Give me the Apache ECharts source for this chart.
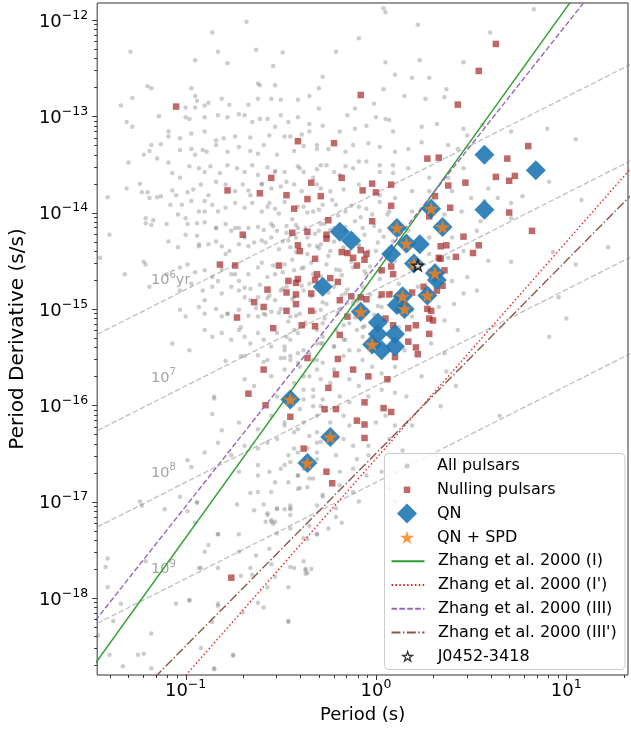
<!DOCTYPE html>
<html>
<head>
<meta charset="utf-8">
<script src="https://cdn.jsdelivr.net/npm/echarts@6/dist/echarts.min.js"></script>
<style>
  html, body { margin: 0; padding: 0; background: #fff; }
  #chart { width: 631px; height: 729px; }
</style>
</head>
<body>
<div id="chart"></div>
<script>
// all values are log10: [log P (s), log Pdot (s/s)]
const allPulsars = [
  [-0.84,-11.82],[-0.68,-12.02],[-0.86,-12.13],[-1.29,-12.33],[-0.83,-12.33],[-0.63,-12.31],[-0.49,-12.34],[-0.95,-12.42],[-0.78,-12.45],[-0.54,-12.48],
  [-1.20,-12.69],[-1.18,-12.71],[-0.62,-12.66],[-0.61,-12.68],[-0.53,-12.68],[-1.28,-12.81],[-0.97,-12.71],[-0.95,-12.79],[-0.94,-12.84],[-1.34,-12.89],
  [-1.00,-12.91],[-0.95,-12.91],[-0.90,-12.89],[-0.88,-12.86],[-0.81,-12.82],[-0.77,-12.88],[-0.67,-12.88],[-0.62,-12.82],[-0.55,-12.82],[-0.50,-12.83],
  [-0.41,-12.83],[-0.35,-12.79],[-1.31,-13.06],[-1.28,-13.11],[-1.14,-13.00],[-1.00,-13.01],[-0.98,-13.03],[-0.90,-13.01],[-0.83,-12.99],[-0.78,-13.01],
  [-0.72,-12.98],[-0.69,-12.99],[-0.65,-13.06],[-0.61,-13.03],[-0.57,-13.03],[-0.50,-12.99],[-0.46,-13.06],[-0.41,-13.01],[-0.35,-13.08],[-1.09,-13.16],
  [-1.09,-13.21],[-1.03,-13.23],[-0.97,-13.18],[-0.90,-13.16],[-0.84,-13.25],[-0.80,-13.23],[-0.74,-13.21],[-0.66,-13.22],[-0.56,-13.20],[-0.53,-13.11],
  [-0.48,-13.21],[-0.45,-13.21],[-0.39,-13.19],[-0.35,-13.16],[-0.28,-13.10],[-1.18,-13.30],[-1.13,-13.29],[-1.19,-13.36],[-1.03,-13.35],[-0.97,-13.34],
  [-0.95,-13.40],[-0.91,-13.35],[-0.89,-13.37],[-0.84,-13.30],[-0.78,-13.37],[-0.72,-13.32],[-0.66,-13.36],[-0.62,-13.39],[-0.59,-13.30],[-0.52,-13.40],
  [-0.43,-13.36],[-0.38,-13.31],[-0.31,-13.34],[-1.30,-13.48],[-1.22,-13.40],[-1.15,-13.44],[-1.09,-13.48],[-1.07,-13.59],[-1.03,-13.64],[-0.98,-13.52],
  [-0.93,-13.54],[-0.90,-13.58],[-0.87,-13.52],[-0.82,-13.59],[-0.78,-13.51],[-0.73,-13.54],[-0.69,-13.58],[-0.65,-13.51],[-0.62,-13.61],[-0.57,-13.53],
  [-0.53,-13.57],[-0.48,-13.58],[-0.41,-13.52],[-0.38,-13.58],[-0.31,-13.55],[-1.31,-13.75],[-1.24,-13.70],[-1.20,-13.79],[-1.13,-13.83],[-1.07,-13.77],
  [-1.05,-13.82],[-0.99,-13.79],[-0.96,-13.76],[-0.92,-13.71],[-0.88,-13.82],[-0.84,-13.68],[-0.79,-13.71],[-0.74,-13.78],[-0.70,-13.71],[-0.67,-13.77],
  [-0.60,-13.70],[-0.55,-13.75],[-0.50,-13.73],[-0.43,-13.71],[-0.39,-13.78],[-0.29,-13.75],[-1.41,-13.84],[-1.40,-14.23],[-1.23,-13.79],[-1.19,-13.85],
  [-1.15,-13.84],[-1.08,-13.92],[-1.02,-13.92],[-0.97,-13.88],[-0.93,-13.99],[-0.90,-13.88],[-0.86,-13.92],[-0.83,-13.99],[-0.79,-13.95],[-0.74,-13.90],
  [-0.69,-13.95],[-0.65,-13.90],[-0.60,-13.99],[-0.57,-13.94],[-0.53,-13.96],[-0.48,-13.89],[-0.38,-13.94],[-0.33,-13.99],[-1.21,-14.06],[-1.17,-14.08],
  [-1.21,-14.11],[-1.18,-14.13],[-1.10,-14.12],[-1.04,-14.02],[-1.00,-14.06],[-0.99,-14.12],[-0.94,-14.11],[-0.90,-14.10],[-0.84,-14.16],[-0.79,-14.12],
  [-0.76,-14.19],[-0.72,-14.16],[-0.67,-14.16],[-0.62,-14.15],[-0.59,-14.18],[-0.55,-14.12],[-0.52,-14.19],[-0.47,-14.14],[-0.41,-14.16],[-0.36,-14.26],
  [-0.30,-14.19],[-1.45,-14.47],[-1.22,-14.51],[-1.21,-14.54],[-1.09,-14.30],[-1.04,-14.36],[-1.00,-14.23],[-0.94,-14.24],[-0.93,-14.35],[-0.88,-14.33],
  [-0.84,-14.30],[-0.81,-14.35],[-0.77,-14.40],[-0.72,-14.33],[-0.67,-14.35],[-0.64,-14.31],[-0.60,-14.29],[-0.55,-14.26],[-0.49,-14.30],[-0.45,-14.36],
  [-0.42,-14.26],[-0.36,-14.43],[-0.31,-14.35],[-1.32,-14.64],[-1.10,-14.64],[-1.03,-14.57],[-0.99,-14.54],[-0.95,-14.62],[-0.90,-14.60],[-0.86,-14.67],
  [-0.81,-14.59],[-0.76,-14.64],[-0.72,-14.71],[-0.67,-14.64],[-0.62,-14.57],[-0.57,-14.67],[-0.53,-14.64],[-0.48,-14.54],[-0.43,-14.60],[-0.38,-14.57],
  [-0.33,-14.64],[-1.19,-14.77],[-1.03,-15.01],[-1.03,-14.81],[-0.97,-14.74],[-0.91,-14.81],[-0.86,-14.77],[-0.81,-14.84],[-0.76,-14.77],[-0.72,-14.81],
  [-0.69,-14.88],[-0.66,-14.79],[-0.62,-14.88],[-0.57,-14.89],[-0.53,-14.91],[-0.50,-14.81],[-0.47,-14.77],[-0.43,-14.88],[-0.38,-14.81],[-0.35,-14.74],
  [-0.29,-14.77],[-1.00,-15.08],[-0.93,-14.98],[-0.90,-15.05],[-0.84,-15.00],[-0.81,-15.08],[-0.78,-15.05],[-0.72,-15.01],[-0.67,-15.07],[-0.62,-15.08],
  [-0.59,-15.05],[-0.55,-15.03],[-0.50,-15.00],[-0.45,-15.08],[-0.40,-15.05],[-0.29,-15.01],[-1.07,-15.36],[-0.98,-15.43],[-0.90,-15.22],[-0.86,-15.29],
  [-0.81,-15.25],[-0.76,-15.32],[-0.72,-15.22],[-0.69,-15.29],[-0.66,-15.36],[-0.62,-15.25],[-0.59,-15.32],[-0.55,-15.39],[-0.52,-15.25],[-0.48,-15.39],
  [-0.45,-15.32],[-0.41,-15.25],[-0.38,-15.43],[-0.31,-15.22],[-0.28,-15.36],[-0.69,-15.49],[-0.62,-15.48],[-0.57,-15.53],[-0.48,-15.51],[-0.45,-15.49],
  [-0.41,-15.46],[-0.31,-15.53],
  [0.04,-11.88],[0.05,-11.92],[0.83,-11.89],[0.22,-12.05],[0.60,-12.13],[-0.09,-12.19],[-0.21,-12.33],[0.46,-12.44],[0.05,-12.44],[0.23,-12.42],
  [-0.30,-12.71],[0.04,-12.72],[0.15,-12.79],[0.26,-12.82],[0.36,-12.80],[0.37,-12.72],[0.10,-12.57],[0.19,-12.60],[0.28,-12.60],[-0.28,-12.59],
  [-0.11,-12.92],[-0.01,-12.87],[0.00,-13.01],[0.07,-13.04],[-0.15,-12.99],[-0.30,-12.92],[-0.19,-13.16],[-0.11,-13.13],[-0.05,-13.10],[0.05,-13.03],
  [0.09,-13.16],[0.24,-13.11],[0.32,-13.08],[0.46,-13.13],[0.48,-13.20],[0.56,-13.09],[0.71,-13.16],[0.90,-13.13],[1.05,-13.24],[-0.31,-13.30],
  [-0.25,-13.34],[-0.16,-13.37],[-0.12,-13.30],[-0.04,-13.28],[0.02,-13.32],[0.10,-13.37],[0.17,-13.34],[0.24,-13.27],[0.38,-13.30],[0.43,-13.34],
  [-0.29,-13.51],[-0.22,-13.58],[-0.16,-13.52],[-0.09,-13.47],[0.02,-13.51],[0.09,-13.59],[0.17,-13.54],[0.28,-13.64],[0.38,-13.64],[0.46,-13.54],
  [0.59,-13.75],[0.64,-13.85],[0.91,-13.68],[0.71,-13.90],[-0.31,-13.71],[-0.24,-13.78],[-0.17,-13.76],[-0.09,-13.71],[0.02,-13.82],[0.10,-13.85],
  [0.19,-13.78],[0.28,-13.78],[0.40,-13.78],[0.50,-13.85],[0.57,-13.88],[0.77,-13.83],[-0.28,-13.92],[-0.21,-13.92],[-0.16,-13.99],[-0.09,-13.94],
  [-0.02,-14.02],[0.07,-13.99],[0.19,-13.99],[0.36,-14.02],[0.45,-13.99],[0.55,-14.09],[0.71,-14.06],[-0.29,-14.12],[-0.22,-14.16],[-0.16,-14.19],
  [-0.07,-14.16],[0.02,-14.19],[0.17,-14.19],[0.28,-14.26],[0.40,-14.26],[0.53,-14.19],[-0.29,-14.33],[-0.24,-14.40],[-0.17,-14.36],[-0.09,-14.33],
  [0.00,-14.40],[0.09,-14.30],[0.28,-14.43],[0.38,-14.47],[0.46,-14.40],[0.59,-14.50],[0.71,-14.51],[0.93,-14.41],[1.05,-14.54],[-0.26,-14.54],
  [-0.19,-14.60],[-0.12,-14.57],[-0.05,-14.64],[0.02,-14.60],[0.10,-14.50],[0.28,-14.60],[0.40,-14.71],[0.48,-14.67],[-0.31,-14.74],[-0.22,-14.77],
  [-0.16,-14.84],[-0.07,-14.77],[0.02,-14.88],[0.12,-14.74],[0.22,-14.77],[0.46,-14.84],[0.53,-14.81],[-0.26,-14.95],[-0.19,-15.01],[-0.12,-14.95],
  [-0.05,-15.01],[0.03,-14.98],[0.19,-15.01],[0.33,-14.98],[0.41,-14.95],[-0.28,-15.15],[-0.21,-15.22],[-0.14,-15.15],[-0.07,-15.19],[0.12,-15.19],
  [0.19,-15.08],[0.36,-15.12],[0.43,-15.22],[-0.29,-15.36],[-0.22,-15.39],[-0.16,-15.32],[-0.09,-15.43],[-0.02,-15.36],[0.15,-15.43],[0.29,-15.36],
  [0.36,-15.46],[0.91,-15.29],[1.08,-13.87],[1.00,-15.10],
  [-0.79,-15.54],[-0.71,-15.49],[-0.59,-15.55],[-0.50,-15.51],[-0.41,-15.56],[-0.33,-15.53],[-0.85,-15.91],[-0.85,-15.93],[-0.69,-15.73],[-0.64,-15.80],
  [-0.55,-15.70],[-0.48,-15.63],[-0.43,-15.77],[-0.38,-15.70],[-0.31,-15.63],[-0.52,-15.91],[-0.45,-15.97],[-0.38,-15.94],[-0.33,-15.84],[-0.29,-16.01],
  [-0.81,-16.26],[-0.72,-16.18],[-0.62,-16.25],[-0.55,-16.11],[-0.48,-16.18],[-0.43,-16.28],[-0.38,-16.18],[-0.31,-16.28],[-0.86,-16.09],[-0.99,-16.57],
  [-0.97,-16.64],[-0.90,-16.49],[-0.83,-16.39],[-0.76,-16.52],[-0.69,-16.42],[-0.62,-16.45],[-0.57,-16.39],[-0.52,-16.35],[-0.46,-16.52],[-0.41,-16.49],
  [-0.36,-16.45],[-0.31,-16.39],[-0.62,-16.62],[-0.56,-16.69],[-0.50,-16.66],[-0.45,-16.59],[-0.38,-16.66],[-0.31,-16.56],[-0.72,-16.69],[-0.62,-16.73],
  [-0.53,-16.80],[-0.46,-16.80],[-0.41,-16.73],[-0.36,-16.85],[-0.33,-16.76],[-1.03,-16.95],[-0.94,-17.01],[-0.66,-16.91],[-0.62,-16.90],[-0.55,-16.90],
  [-0.52,-17.07],[-0.45,-17.07],[-0.40,-16.86],[-0.57,-17.14],[-0.55,-17.21],[-0.53,-17.21],[-0.99,-17.10],[-0.83,-17.34],[-0.72,-17.34],[-0.52,-17.33],
  [-0.45,-17.28],[-0.38,-17.38],[-0.31,-17.34],[-0.88,-17.45],[-0.90,-17.52],[-1.24,-17.00],[-1.23,-17.04],[-1.11,-17.08],[-1.41,-17.59],[-1.42,-17.68],
  [-1.21,-17.62],[-0.93,-17.69],[-0.72,-17.52],[-0.83,-17.69],[-0.55,-17.65],[-0.43,-17.69],[-0.38,-17.62],[-0.71,-17.77],[-0.65,-17.76],[-0.62,-18.05],
  [-0.70,-18.15],[-0.57,-17.89],[-0.46,-17.89],[-0.36,-17.74],[-0.37,-17.70],[-1.41,-17.89],[-1.05,-18.06],[-0.98,-18.03],[-1.34,-18.06],[-1.38,-18.24],
  [-0.83,-18.06],[-0.46,-18.24],[-1.18,-18.37],[-1.25,-18.59],[-1.22,-18.58],[-1.40,-18.59],[-1.33,-18.71],[-1.18,-18.73],[-0.85,-18.73],[-0.75,-18.59],
  [-1.46,-18.39],
  [-0.47,-15.29],[-0.43,-15.22],[-0.48,-15.43],[-0.45,-15.53],[-0.40,-15.60],[-0.35,-15.46],[-0.31,-15.36],[-0.28,-15.29],[-0.22,-15.39],[-0.17,-15.32],
  [-0.14,-15.43],[-0.10,-15.22],[-0.07,-15.29],[-0.28,-15.56],[-0.22,-15.63],[-0.17,-15.49],[-0.07,-15.53],[-0.02,-15.60],[0.03,-15.67],[0.10,-15.60],
  [-0.35,-15.70],[-0.29,-15.73],[-0.24,-15.77],[-0.14,-15.73],[-0.09,-15.80],[0.03,-15.84],[0.10,-15.87],[-0.38,-15.84],[-0.33,-15.91],[-0.28,-15.94],
  [-0.19,-15.91],[-0.14,-15.97],[-0.04,-15.91],[-0.33,-16.01],[-0.40,-16.04],[-0.31,-16.11],[-0.24,-16.18],[-0.17,-16.11],[-0.14,-16.21],[0.00,-16.18],
  [0.05,-16.11],[0.10,-16.21],[-0.48,-16.21],[-0.41,-16.25],[-0.35,-16.32],[-0.29,-16.38],[-0.17,-16.35],[-0.12,-16.42],[-0.04,-16.42],[0.07,-16.35],
  [-0.43,-16.45],[-0.31,-16.49],[-0.21,-16.52],[-0.10,-16.56],[-0.04,-16.52],[-0.48,-16.62],[-0.41,-16.73],[-0.35,-16.76],[-0.19,-16.69],[-0.12,-16.66],
  [-0.05,-16.73],[-0.41,-16.87],[-0.28,-16.93],[-0.19,-16.83],[-0.12,-16.90],[0.03,-16.69],[0.07,-16.87],[-0.31,-17.04],[-0.21,-17.07],[-0.09,-17.00],
  [0.10,-17.00],
  [-0.73,-17.03],[-0.64,-17.09],[-0.59,-17.03],[-0.57,-17.12],[-0.55,-17.19],[-0.54,-17.23],[-0.58,-17.21],[-0.52,-17.08],[-0.48,-17.08],[-0.45,-17.04],
  [-0.45,-17.08],[-0.45,-17.14],[-0.28,-16.95],[-0.21,-17.16],[-0.18,-17.22],[-0.35,-17.25],[-0.31,-17.34],[-0.25,-17.28],[-0.36,-17.39],[-0.56,-17.49],
  [-0.63,-17.56],[-0.83,-17.34],[-0.94,-17.01],[-0.98,-18.02],[-0.92,-17.69],[-0.66,-17.69],[-0.53,-17.78],[-0.45,-17.68],[-0.37,-17.71],[-0.34,-17.70],
  [-0.37,-17.75],[-0.83,-18.08],[-0.59,-18.10],[-0.46,-18.25],[-0.86,-18.25],[-0.92,-18.52],[-0.75,-18.60],[-0.85,-18.74],[-0.95,-17.22],
  [-0.56,-13.90],[-0.51,-14.01],[-0.44,-14.07],[-0.41,-13.94],[-0.36,-14.00],[-0.30,-13.97],[-0.23,-13.87],[-0.20,-14.03],[-0.13,-13.93],[-0.08,-14.05],
  [-0.05,-13.96],[0.02,-13.89],[0.06,-14.02],[-0.54,-14.14],[-0.47,-14.21],[-0.42,-14.13],[-0.37,-14.16],[-0.32,-14.22],[-0.27,-14.12],[-0.24,-14.18],
  [-0.16,-14.15],[-0.11,-14.09],[-0.06,-14.23],[-0.01,-14.14],[0.04,-14.25],[-0.58,-14.31],[-0.51,-14.38],[-0.46,-14.29],[-0.42,-14.41],[-0.35,-14.34],
  [-0.30,-14.37],[-0.25,-14.45],[-0.22,-14.30],[-0.15,-14.42],[-0.09,-14.35],[-0.04,-14.40],[0.01,-14.31],[0.06,-14.44],[-0.60,-14.52],[-0.54,-14.55],
  [-0.49,-14.62],[-0.44,-14.49],[-0.39,-14.58],[-0.34,-14.52],[-0.29,-14.66],[-0.21,-14.59],[-0.18,-14.65],[-0.13,-14.51],[-0.06,-14.61],[-0.03,-14.56],
  [0.02,-14.69],[-0.61,-14.75],[-0.56,-14.86],[-0.49,-14.79],[-0.44,-14.90],[-0.39,-14.76],[-0.34,-14.87],[-0.28,-14.93],[-0.25,-14.83],[-0.18,-14.86],
  [-0.15,-14.80],[-0.10,-14.92],[-0.03,-14.85],[0.01,-14.97],[0.08,-14.83],[-0.63,-14.99],[-0.58,-15.06],[-0.51,-15.04],[-0.46,-15.13],[-0.42,-15.07],
  [-0.37,-15.14],[-0.32,-15.03],[-0.27,-15.10],[-0.20,-15.04],[-0.17,-15.17],[-0.11,-15.09],[-0.06,-15.18],[-0.01,-15.06],[0.04,-15.12],[-0.74,-14.16],
  [-0.69,-14.26],[-0.79,-14.43],[-0.74,-14.64],[-0.69,-14.78],[-0.66,-14.91],[-0.78,-15.05],[-0.71,-15.19],[-0.66,-13.82],[-0.60,-13.71],[-0.53,-13.58],
  [-0.47,-13.68],[-0.40,-13.54],[-0.33,-13.64],[-0.26,-13.51],[-0.19,-13.61],[-0.12,-13.54],[-0.05,-13.47],[0.02,-13.58],[0.09,-13.51],[-0.90,-13.99],
  [-0.84,-14.16],[-0.93,-14.33],[-0.83,-14.71],[-0.90,-14.91],
  [0.16,-15.91],[0.24,-15.70],[0.19,-16.21],[0.37,-15.65],[0.34,-16.01],[0.42,-15.80],[0.14,-16.47],[0.96,-14.88],[1.22,-14.36],[0.65,-16.11]
];

const nullingPulsars = [
  [-1.05,-12.90],[-0.41,-13.26],[-0.55,-13.64],[-0.78,-13.77],[-0.61,-13.80],[-0.47,-13.82],[-0.34,-13.69],[-0.29,-13.83],[-0.36,-13.86],[-0.43,-13.96],
  [-0.70,-14.23],[-0.44,-14.21],[-0.36,-14.20],[-0.41,-14.34],[-0.40,-14.40],[-0.82,-14.54],[-0.74,-14.55],[-0.51,-14.55],[-0.32,-14.48],[-0.41,-14.69],
  [-0.46,-14.71],[-0.42,-14.73],[-0.57,-14.80],[-0.47,-14.83],[-0.42,-14.85],[-0.32,-14.70],[-0.64,-14.93],[-0.59,-14.98],[-0.47,-15.02],[-0.42,-14.95],
  [-0.34,-15.02],[-0.73,-15.09],[-0.54,-15.20],[-0.39,-15.17],[-0.32,-15.18],[-0.36,-15.51],
  [0.63,-12.25],[0.54,-12.53],[0.43,-12.88],[-0.08,-12.78],[-0.22,-13.28],[0.27,-13.44],[0.33,-13.43],[0.69,-13.44],[0.80,-13.31],[0.63,-13.63],
  [0.70,-13.67],[0.73,-13.62],[0.47,-13.69],[0.38,-13.72],[0.31,-13.83],[-0.18,-13.64],[-0.02,-13.70],[-0.07,-13.77],[0.00,-13.79],[0.08,-13.71],
  [0.08,-13.93],[0.39,-13.95],[0.70,-14.00],[0.82,-14.19],[0.28,-14.04],[-0.25,-14.08],[-0.02,-14.09],[0.46,-14.25],[0.54,-14.34],[0.34,-14.35],
  [0.37,-14.34],[0.51,-14.42],[0.42,-14.46],[0.33,-14.47],[-0.26,-14.23],[-0.18,-14.41],[-0.15,-14.42],[-0.08,-14.39],[-0.05,-14.43],[-0.12,-14.47],
  [-0.06,-14.49],[-0.10,-14.55],[0.08,-14.56],[0.03,-14.60],[0.09,-14.64],[0.36,-14.60],[0.34,-14.48],[0.19,-14.83],[0.25,-14.77],[0.32,-14.81],
  [0.35,-14.76],[-0.05,-14.90],[-0.13,-14.87],[-0.20,-14.72],[0.07,-14.85],[0.27,-15.00],[0.29,-15.02],[0.28,-15.10],[0.30,-15.12],[0.05,-15.10],
  [0.17,-15.20],[0.21,-15.17],[0.28,-15.26],[0.17,-15.34],[0.21,-15.40],[0.22,-15.47],[0.10,-15.50],[-0.20,-15.52],[-0.19,-15.27],[-0.15,-15.08],
  [-0.31,-14.64],[-0.26,-14.27],[-0.24,-14.68],[-0.34,-14.84],[-0.19,-14.91],[-0.08,-14.88],[0.03,-14.85],[0.09,-15.17],
  [-0.59,-15.63],[-0.12,-15.63],[-0.04,-15.70],[-0.21,-15.68],[0.06,-15.73],[-0.25,-15.82],[-0.67,-15.88],[-0.58,-16.00],[-0.45,-16.12],[-0.27,-16.04],
  [-0.21,-16.04],[-0.06,-15.97],[0.04,-16.03],[0.08,-16.07],[-0.10,-16.16],[-0.06,-16.20],[-0.06,-16.34],[-0.38,-16.45],[-0.26,-16.69],[-0.23,-16.81],
  [-0.76,-17.79]
];

const qnPulsars = [
  [0.57,-13.40],[0.84,-13.56],[0.57,-13.97],[0.29,-13.96],[0.35,-14.15],[0.11,-14.16],[0.16,-14.32],[0.23,-14.33],[0.08,-14.43],[0.20,-14.53],
  [0.31,-14.63],[0.32,-14.70],[-0.28,-14.77],[0.27,-14.86],[0.14,-14.87],[0.11,-14.96],[0.15,-15.00],[-0.08,-15.03],[0.01,-15.14],[0.01,-15.26],
  [0.10,-15.26],[-0.02,-15.37],[0.03,-15.43],[0.10,-15.39],[-0.19,-14.20],[-0.13,-14.29],[-0.45,-15.94],[-0.24,-16.33],[-0.36,-16.60]
];

const qnSpdPulsars = [
  [0.29,-13.96],[0.35,-14.15],[0.11,-14.16],[0.16,-14.32],[0.20,-14.53],[0.31,-14.63],[0.27,-14.86],[0.14,-14.87],[0.15,-15.00],[-0.08,-15.03],
  [-0.02,-15.37],[-0.45,-15.94],[-0.24,-16.33],[-0.36,-16.60]
];

const j0452 = [[0.22,-14.55]];

// line end points (log10), read where the lines cross the frame
const zhangI = [[-1.5,-18.75],[1.5,-10.50]];
const zhangIp = [[-1.5,-19.93],[1.5,-13.18]];
const zhangIII = [[-1.5,-18.30],[1.5,-10.80]];
const zhangIIIp = [[-1.5,-19.50],[1.5,-13.50]];
const age6 = [[-1.5,-15.30],[1.5,-12.30]];
const age7 = [[-1.5,-16.30],[1.5,-13.30]];
const age8 = [[-1.5,-17.30],[1.5,-14.30]];
const age9 = [[-1.5,-18.30],[1.5,-15.30]];
const ageExp = ['6', '7', '8', '9'];
const ageUnit = ['yr', '', '', ''];
const ageLabelPos = [[-1.14,-14.69],[-1.14,-15.70],[-1.14,-16.69],[-1.14,-17.69]];

// axis range and ticks
const xMin = 0.0343, xMax = 21.1;
const yMin = 1.585e-19, yMax = 1.496e-12;
const xMajor = [0.1, 1, 10];
const xMinor = [0.04,0.05,0.06,0.07,0.08,0.09,0.2,0.3,0.4,0.5,0.6,0.7,0.8,0.9,2,3,4,5,6,7,8,9,20];
const yDecades = [-19,-18,-17,-16,-15,-14,-13,-12];
const mantissas = [2,3,4,5,6,7,8,9];

const FONT = 'DejaVu Sans';
const STAR = 'path://M50,0L61.23,34.55L97.55,34.55L68.17,55.9L79.39,90.45L50,69.1L20.61,90.45L31.83,55.9L2.45,34.55L38.77,34.55Z';

const lin = (arr) => arr.map(([a, b]) => [Math.pow(10, a), Math.pow(10, b)]);

const yMajorTicks = yDecades.map((d) => Math.pow(10, d)).filter((v) => v >= yMin && v <= yMax);
const yMinorTicks = [];
yDecades.forEach((d) => {
  mantissas.forEach((m) => {
    const v = m * Math.pow(10, d);
    if (v > yMin && v < yMax) yMinorTicks.push(v);
  });
});

function powLabel(v) {
  const e = Math.log10(v);
  if (Math.abs(e - Math.round(e)) > 1e-6) return '';
  return '{b|10}{s|' + String(Math.round(e)).replace('-', '\u2212') + '}';
}
const tickRich = {
  b: { fontFamily: FONT, fontSize: 18, color: '#000', lineHeight: 22, verticalAlign: 'bottom' },
  s: { fontFamily: FONT, fontSize: 12.5, color: '#000', lineHeight: 10, verticalAlign: 'top' }
};

function xTick(params, api) {
  const cs = params.coordSys;
  const x = Math.round(api.coord([api.value(0), yMin])[0]) + 0.5;
  const y = cs.y + cs.height;
  return { type: 'line', shape: { x1: x, y1: y, x2: x, y2: y + api.value(2) },
    style: { stroke: '#333', lineWidth: 1 } };
}
function yTick(params, api) {
  const cs = params.coordSys;
  const y = Math.round(api.coord([xMin, api.value(1)])[1]) + 0.5;
  const x = cs.x;
  return { type: 'line', shape: { x1: x - api.value(2), y1: y, x2: x, y2: y },
    style: { stroke: '#333', lineWidth: 1 } };
}

const lineSeries = (name, data, color, type, z) => ({
  name, type: 'line', data: lin(data), symbol: 'none', silent: true, z,
  lineStyle: { color, width: 1.4, type }, itemStyle: { color }
});

const ageStyle = { color: 'rgba(128,128,128,0.5)', width: 1.3, type: [5.5, 2.4] };

const series = [
  { name: 'All pulsars', type: 'scatter', data: lin(allPulsars), symbol: 'circle', symbolSize: 4.5, z: 1,
    itemStyle: { color: '#808080', opacity: 0.4 } },
  { name: 'age6', type: 'line', data: lin(age6), symbol: 'none', silent: true, z: 2, lineStyle: ageStyle },
  { name: 'age7', type: 'line', data: lin(age7), symbol: 'none', silent: true, z: 2, lineStyle: ageStyle },
  { name: 'age8', type: 'line', data: lin(age8), symbol: 'none', silent: true, z: 2, lineStyle: ageStyle },
  { name: 'age9', type: 'line', data: lin(age9), symbol: 'none', silent: true, z: 2, lineStyle: ageStyle },
  { name: 'ageLabels', type: 'scatter', data: lin(ageLabelPos), symbolSize: 0, silent: true, z: 2,
    label: { show: true, position: 'right', distance: 0, offset: [-8, 0],
      formatter: (p) => '{b|10}{s|' + ageExp[p.dataIndex] + '}{b|' + ageUnit[p.dataIndex] + '}',
      rich: {
        b: { fontFamily: FONT, fontSize: 14.5, color: '#8c8c8c', lineHeight: 18, verticalAlign: 'bottom' },
        s: { fontFamily: FONT, fontSize: 10, color: '#8c8c8c', lineHeight: 8, verticalAlign: 'top' }
      } } },
  { name: 'Nulling pulsars', type: 'scatter', data: lin(nullingPulsars), symbol: 'rect', symbolSize: 6.5, z: 3,
    itemStyle: { color: '#a52a2a', opacity: 0.7 } },
  lineSeries('Zhang et al. 2000 (I)', zhangI, '#2ca02c', 'solid', 4),
  lineSeries("Zhang et al. 2000 (I')", zhangIp, '#f01e1e', [1.5, 2.4], 4),
  lineSeries('Zhang et al. 2000 (III)', zhangIII, '#9467bd', [5.5, 2.4], 4),
  lineSeries("Zhang et al. 2000 (III')", zhangIIIp, '#8c564b', [9, 2.4, 1.5, 2.4], 4),
  { name: 'QN', type: 'scatter', data: lin(qnPulsars), symbol: 'diamond', symbolSize: 20, z: 5,
    itemStyle: { color: '#1f77b4', opacity: 0.9 } },
  { name: 'QN + SPD', type: 'scatter', data: lin(qnSpdPulsars), symbol: STAR, symbolSize: 15, symbolKeepAspect: true, z: 6,
    itemStyle: { color: '#ff7f0e' } },
  { name: 'J0452-3418', type: 'scatter', data: lin(j0452), symbol: STAR, symbolSize: 11, symbolKeepAspect: true, z: 7,
    itemStyle: { color: '#ffffff', borderColor: '#000', borderWidth: 1.6 } },
  { name: 'xticks', type: 'custom', renderItem: xTick, silent: true, z: 8, clip: false,
    data: xMajor.map((v) => [v, yMin, 5]).concat(xMinor.map((v) => [v, yMin, 3])) },
  { name: 'yticks', type: 'custom', renderItem: yTick, silent: true, z: 8, clip: false,
    data: yMajorTicks.map((v) => [xMin, v, 5]).concat(yMinorTicks.map((v) => [xMin, v, 3])) }
];

// legend rows: one legend component per row so each icon keeps its own size
const legendRows = [
  { name: 'All pulsars', w: 5, h: 5 },
  { name: 'Nulling pulsars', w: 6.5, h: 6.5 },
  { name: 'QN', w: 20, h: 20 },
  { name: 'QN + SPD', w: 14, h: 14 },
  { name: 'Zhang et al. 2000 (I)', w: 33, h: 14, line: true },
  { name: "Zhang et al. 2000 (I')", w: 33, h: 14, line: true },
  { name: 'Zhang et al. 2000 (III)', w: 33, h: 14, line: true },
  { name: "Zhang et al. 2000 (III')", w: 33, h: 14, line: true },
  { name: 'J0452-3418', w: 10, h: 10 }
];
const legends = legendRows.map((r, i) => {
  const lg = {
    data: [r.name],
    left: 407 - r.w / 2,
    top: 466 + 23.8 * i - Math.max(r.h, 18) / 2,
    orient: 'vertical', padding: 0, itemGap: 0,
    itemWidth: r.w, itemHeight: r.h,
    selectedMode: false, z: 20,
    textStyle: { fontFamily: FONT, fontSize: 16, color: '#000', lineHeight: 18,
      padding: [0, 0, 0, 25 - r.w / 2] }
  };
  if (r.line) lg.itemStyle = { opacity: 0 };
  if (r.name === 'J0452-3418') lg.itemStyle = { borderWidth: 1.3 };
  return lg;
});

const chart = echarts.init(document.getElementById('chart'));
chart.setOption({
  animation: false,
  backgroundColor: '#fff',
  grid: { left: 90, right: 1, top: 3, bottom: 49, show: true, borderColor: '#333', borderWidth: 1 },
  xAxis: {
    type: 'log', logBase: 10, min: xMin, max: xMax,
    name: 'Period (s)', nameLocation: 'middle', nameGap: 31,
    nameTextStyle: { fontFamily: FONT, fontSize: 18, color: '#000' },
    axisLine: { show: false }, axisTick: { show: false }, minorTick: { show: false }, splitLine: { show: false },
    axisLabel: { formatter: powLabel, rich: tickRich, margin: 3 }
  },
  yAxis: {
    type: 'log', logBase: 10, min: yMin, max: yMax,
    name: 'Period Derivative (s/s)', nameLocation: 'middle', nameGap: 62,
    nameTextStyle: { fontFamily: FONT, fontSize: 20, color: '#000' },
    axisLine: { show: false }, axisTick: { show: false }, minorTick: { show: false }, splitLine: { show: false },
    axisLabel: { formatter: powLabel, rich: tickRich, margin: 9 }
  },
  legend: legends,
  graphic: [{
    type: 'rect', z: 15, silent: true,
    shape: { x: 384.5, y: 453.5, width: 240.5, height: 216, r: 4 },
    style: { fill: 'rgba(255,255,255,0.8)', stroke: '#cccccc', lineWidth: 1 }
  }],
  series
});
</script>
</body>
</html>
